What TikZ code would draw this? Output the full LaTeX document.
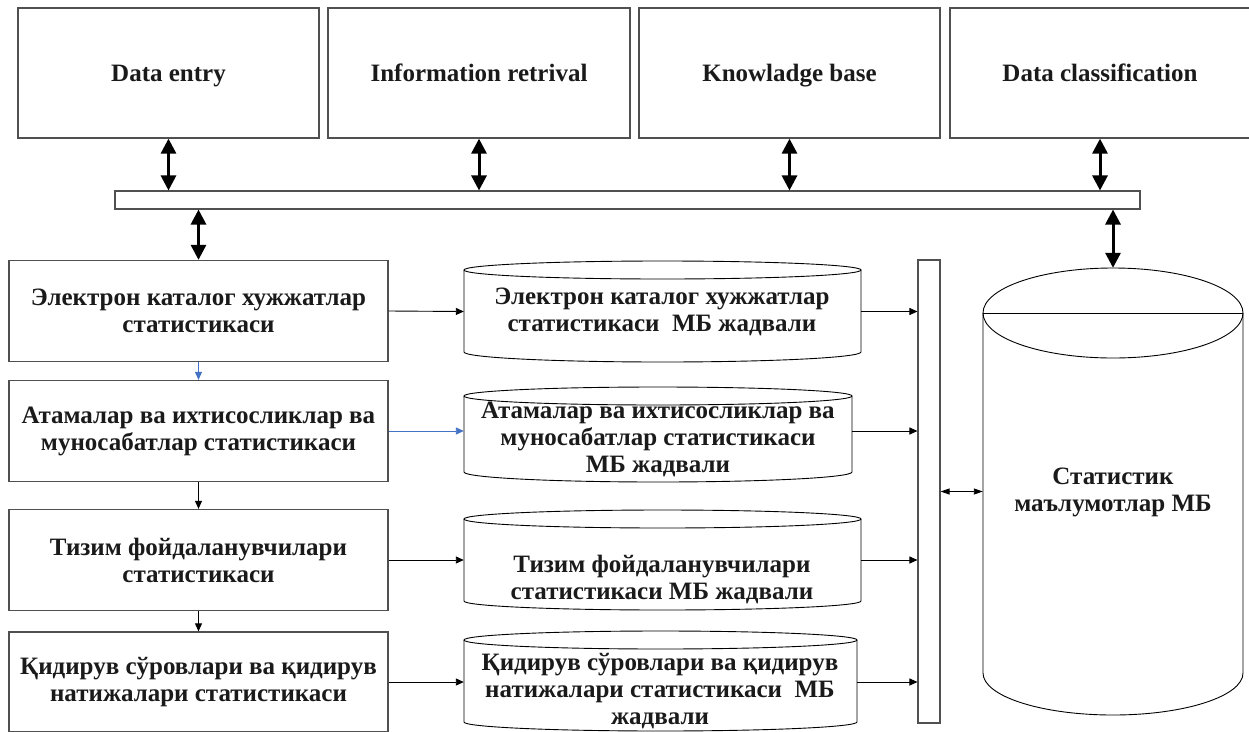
\documentclass[tikz,border=0pt]{standalone}
\usepackage{fontspec}
\setmainfont{Liberation Serif}
\usetikzlibrary{arrows.meta}
\definecolor{boxgray}{HTML}{505050}
\definecolor{arrowblue}{HTML}{4472C4}
\definecolor{txtcol}{HTML}{1A1A1A}
\newcommand\dbcyl[6]{%
  \pgfmathsetmacro\dbcx{(#1+#2)/2}%
  \pgfmathsetmacro\dbrx{(#2-#1)/2}%
  \draw[dbline] (\dbcx,#3) ellipse [x radius={\dbrx pt}, y radius={#5 pt}];
  \draw[dbline] (#1,#3) -- (#1,#4) arc[start angle=180, end angle=360, x radius={\dbrx pt}, y radius={#6 pt}] -- (#2,#3);
}
\begin{document}
\begin{tikzpicture}[x=1pt,y=-1pt,
  txt/.style={font=\fontsize{25}{27}\selectfont\bfseries, align=center, text=txtcol},
  topbox/.style={draw=boxgray, line width=1.3pt, minimum width=301pt, minimum height=130pt, inner sep=0pt, txt, text height=20pt, text depth=3.5pt},
  lbox/.style={draw=boxgray, line width=1.3pt, minimum width=379pt, minimum height=101pt, inner sep=0pt, txt},
  barbox/.style={draw=boxgray, line width=1.1pt, inner sep=0pt},
  shapebox/.style={inner sep=0pt},
  dbline/.style={draw=black, line width=0.9pt},
  bigarr/.style={{Triangle[length=15pt,width=15pt]}-{Triangle[length=15pt,width=15pt]}, line width=3pt},
  smallarr/.style={-{Triangle[length=8pt,width=7pt]}, line width=0.9pt},
  dblsmall/.style={{Triangle[length=9pt,width=6pt]}-{Triangle[length=9pt,width=6pt]}, line width=0.9pt},
  bluearr/.style={smallarr, draw=arrowblue, -{Triangle[length=8pt,width=7pt,fill=arrowblue]}}
]
\useasboundingbox (0,0) rectangle (1249,731);
\fill[white] (0,0) rectangle (1249,731);

% top boxes
\node[topbox] (de) at (168.5,73) {Data entry};
\node[topbox, minimum width=302pt] (ir) at (479,73) {Information retrival};
\node[topbox] (kb) at (789.5,73) {Knowladge base};
\node[topbox, minimum width=300pt] (dc) at (1100,73) {Data classification};

% bus
\node[barbox, minimum width=1025pt, minimum height=18pt] (bus) at (627.5,200) {};

% left boxes
\node[lbox] (b1) at (198.5,311) {Электрон каталог хужжатлар\\статистикаси};
\node[lbox] (b2) at (198.5,431) {Атамалар ва ихтисосликлар ва\\муносабатлар статистикаси};
\node[lbox] (b3) at (198.5,560) {Тизим фойдаланувчилари\\статистикаси};
\node[lbox, minimum height=100pt] (b4) at (198.5,682) {Қидирув сўровлари ва қидирув\\натижалари статистикаси};

% small cylinders
\dbcyl{464}{861}{270}{352}{9}{10}
\dbcyl{464}{852}{396}{472}{9}{10}
\dbcyl{464}{861}{519}{601}{9}{9}
\dbcyl{464}{857}{640}{722}{9}{9}
\node[shapebox, minimum width=397pt, minimum height=101pt] (c1) at (662.5,311.5) {};
\node[shapebox, minimum width=388pt, minimum height=95pt] (c2) at (658,431) {};
\node[shapebox, minimum width=397pt, minimum height=100pt] (c3) at (662.5,560) {};
\node[shapebox, minimum width=393pt, minimum height=100pt] (c4) at (660.5,682) {};
\node[txt] (c1t) at (662,312) {Электрон каталог хужжатлар\\статистикаси\ \ МБ жадвали};
\node[txt] (c2t) at (658,439) {Атамалар ва ихтисосликлар ва\\муносабатлар статистикаси\\МБ жадвали};
\node[txt] (c3t) at (662,579) {Тизим фойдаланувчилари\\статистикаси МБ жадвали};
\node[txt] (c4t) at (660,691) {Қидирув сўровлари ва қидирув\\натижалари статистикаси\ \ МБ\\жадвали};

% vertical bar
\node[barbox, minimum width=22pt, minimum height=463pt] (vbar) at (929,491.5) {};

% big cylinder
\dbcyl{983}{1243}{313}{673}{45}{42}
\draw[dbline] (983,313) -- (1243,313);
\node[shapebox, minimum width=260pt, minimum height=447pt] (bigdb) at (1113,491.5) {};
\node[txt] (bigt) at (1113,492) {Статистик\\маълумотлар МБ};

% bus connectors
\draw[bigarr] (de.south) -- (de.south |- bus.north);
\draw[bigarr] (ir.south) -- (ir.south |- bus.north);
\draw[bigarr] (kb.south) -- (kb.south |- bus.north);
\draw[bigarr] (dc.south) -- (dc.south |- bus.north);
\draw[bigarr] (bus.south -| b1.north) -- (b1.north);
\draw[bigarr] (bus.south -| bigdb.north) -- (bigdb.north);

% left chain
\draw[bluearr] (b1.south) -- (b2.north);
\draw[smallarr] (b2.south) -- (b3.north);
\draw[smallarr] (b3.south) -- (b4.north);

% boxes to cylinders
\draw[smallarr] (b1.east) -- (c1.west);
\draw[bluearr] (b2.east) -- (c2.west);
\draw[smallarr] (b3.east) -- (c3.west);
\draw[smallarr] (b4.east) -- (c4.west);

% cylinders to bar
\draw[smallarr] (c1.east) -- (c1.east -| vbar.west);
\draw[smallarr] (c2.east) -- (c2.east -| vbar.west);
\draw[smallarr] (c3.east) -- (c3.east -| vbar.west);
\draw[smallarr] (c4.east) -- (c4.east -| vbar.west);

% bar to big db
\draw[dblsmall] (vbar.east) -- (vbar.east -| bigdb.west);
\end{tikzpicture}
\end{document}
